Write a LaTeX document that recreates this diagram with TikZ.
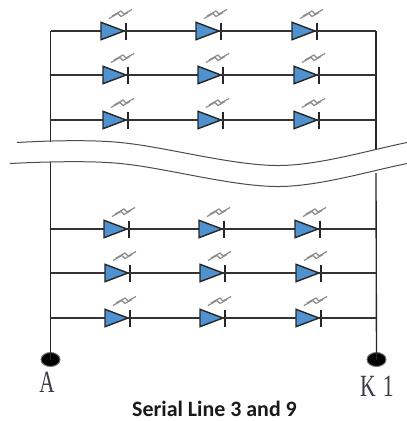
\documentclass[tikz,border=0pt]{standalone}
\usepackage{fontspec}
\setmainfont{Liberation Serif}
\newfontfamily\titlefont{Carlito}
\definecolor{ledblue}{RGB}{80,145,208}
\definecolor{labelink}{RGB}{55,60,70}
\usetikzlibrary{shapes.geometric}
\tikzset{
  x=1bp,y=-1bp,
  wire/.style={line width=1.25bp,black!80},
  rail/.style={line width=1.35bp,black!85},
  breakline/.style={line width=1bp,black!70},
  ledbody/.style={draw=black!85,line width=1.4bp,fill=ledblue,line join=miter},
  ledbar/.style={line width=1.3bp,black!85},
  ledray/.style={line width=1.2bp,black!45},
  padnode/.style={ellipse,fill=black,draw=black!55,line width=1bp,minimum width=19bp,minimum height=14bp,inner sep=0pt},
}
\newcommand{\ledat}[3]{% name, x of triangle left, y
  \begin{scope}[shift={(#2,#3)}]
    \coordinate (#1a) at (0,0);
    \coordinate (#1k) at (25,0);
    \draw[ledbody] (0,-8.7) -- (23,0) -- (0,8.7) -- cycle;
    \draw[ledbar] (25,-8.5) -- (25,8.5);
    \draw[wire] (23,0) -- (25,0);
    \draw[ledray] (8,-12.5) -- (17,-17.5) -- (20,-14.5) -- (27,-18.5);
    \draw[ledray] (11,-15) -- (20,-20) -- (23,-17) -- (31,-21.5);
  \end{scope}}
\begin{document}
\begin{tikzpicture}
\useasboundingbox (0,0) rectangle (407,421);
\fill[white] (0,0) rectangle (407,421);
\node[padnode] (padA) at (50.5,359.5) {};
\node[padnode] (padK) at (376.5,359.5) {};
\coordinate (tl) at (50.5,31);
\coordinate (tr) at (376,31);
\coordinate (bl1) at (50.5,142);
\coordinate (bl2) at (50.5,162);
\coordinate (br1) at (376,150);
\coordinate (br2) at (376,173);
\draw[rail] (tl) -- (bl1);
\draw[rail] (bl2) -- (padA.center);
\draw[rail] (tr) -- (br1);
\draw[rail] (br2) -- (padK.center);
\foreach \r/\y/\xa/\xb/\xc in {a/31/101/196/292,b/75/103/198/294,c/120/103/198/294,d/229/104/199/295,e/273/105/200/296,f/318/105/200/296}{
  \ledat{\r1}{\xa}{\y}
  \ledat{\r2}{\xb}{\y}
  \ledat{\r3}{\xc}{\y}
  \coordinate (\r L) at (50.5,\y);
  \coordinate (\r R) at (376,\y);
  \draw[wire] (\r L) -- (\r1a);
  \draw[wire] (\r1k) -- (\r2a);
  \draw[wire] (\r2k) -- (\r3a);
  \ifx\r c\else\draw[wire] (\r3k) -- (\r R);\fi
}
\draw[wire] (c3k) -- ++(13,0) coordinate (cm);
\draw[wire,densely dashed,line width=0.9bp] (cm) -- (cR);
\draw[breakline] (17,142.5) .. controls (60,140) and (100,140) .. (125,143) .. controls (170,148) and (235,166) .. (280,165.5) .. controls (320,165) and (370,150) .. (407,142.5);
\draw[breakline] (10,163.5) .. controls (60,161) and (100,161) .. (125,164) .. controls (170,169) and (235,187) .. (280,186.5) .. controls (320,186) and (370,171) .. (407,163.5);
\node[font=\fontsize{31}{31}\selectfont,xscale=0.68,text=labelink] (labA) at (47,382) {A};
\node[font=\fontsize{31}{31}\selectfont,xscale=0.7,text=labelink] (labK) at (377,386) {K\,\,1};
\node[font=\titlefont\bfseries\fontsize{22}{22}\selectfont,text=black!90] (title) at (214.5,408.5) {Serial Line 3 and 9};
\end{tikzpicture}
\end{document}
